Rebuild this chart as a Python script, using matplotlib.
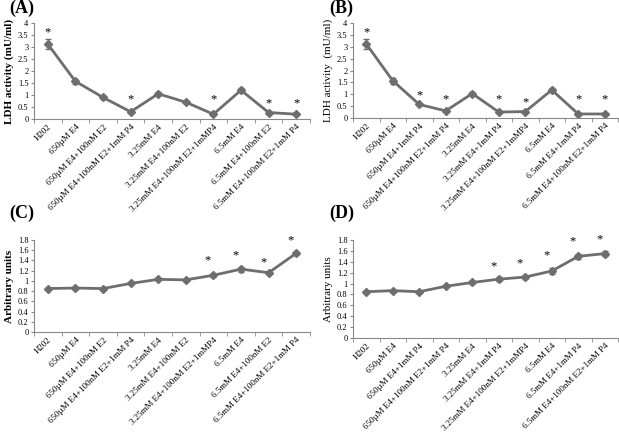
import numpy as np
import matplotlib
matplotlib.use("Agg")
import matplotlib.pyplot as plt

plt.rcParams['font.family'] = ['Liberation Serif', 'DejaVu Serif']

## category names for the two sets of panels
cats_AC = ["H202", "650µM E4", "650µM E4+100nM E2", "650µM E4+100nM E2+1mM P4",
           "3.25mM E4", "3.25mM E4+100nM E2", "3.25mM E4+100nM E2+1mMP4",
           "6.5mM E4", "6.5mM E4+100nM E2", "6.5mM E4+100nM E2+1mM P4"]
cats_BD = ["H202", "650µM E4", "650µM E4+1mM P4", "650µM E4+100nM E2+1mM P4",
           "3.25mM E4", "3.25mM E4+1mM P4", "3.25mM E4+100nM E2+1mMP4",
           "6.5mM E4", "6.5mM E4+1mM P4", "6.5mM E4+100nM E2+1mM P4"]

## values
ldh_A = [3.12, 1.57, 0.9, 0.3, 1.05, 0.7, 0.2, 1.2, 0.27, 0.2]
err_A = [0.2, 0.1, 0.05, 0.04, 0.07, 0.05, 0.04, 0.08, 0.04, 0.03]
star_A = {0: 3.6, 3: 0.8, 6: 0.8, 8: 0.65, 9: 0.65}

ldh_B = [3.12, 1.57, 0.57, 0.3, 1.03, 0.25, 0.27, 1.18, 0.17, 0.17]
err_B = [0.2, 0.12, 0.04, 0.04, 0.07, 0.03, 0.03, 0.08, 0.03, 0.03]
star_B = {0: 3.6, 2: 0.96, 3: 0.8, 5: 0.8, 6: 0.65, 8: 0.8, 9: 0.8}

arb_C = [0.85, 0.86, 0.85, 0.95, 1.03, 1.02, 1.11, 1.23, 1.16, 1.54]
err_C = [0.02, 0.02, 0.02, 0.02, 0.02, 0.02, 0.03, 0.05, 0.03, 0.03]
star_C = {6: 1.40, 7: 1.50, 8: 1.36, 9: 1.8}

arb_D = [0.85, 0.87, 0.85, 0.95, 1.02, 1.08, 1.12, 1.23, 1.50, 1.55]
err_D = [0.02, 0.02, 0.02, 0.02, 0.02, 0.04, 0.03, 0.06, 0.04, 0.04]
star_D = {5: 1.31, 6: 1.38, 7: 1.52, 8: 1.78, 9: 1.81}

W, H = 619, 432
fig = plt.figure(figsize=(W / 100, H / 100), dpi=100)

def box(l, r, t, b):
    return [l / W, (H - b) / H, (r - l) / W, (b - t) / H]

def panel(rect, cats, vals, errs, stars, ymax, ystep, ylabel, bold, letter, lpos, sdx):
    ax = fig.add_axes(rect)
    x = np.arange(len(cats))
    ax.errorbar(x, vals, yerr=errs, color='#6e6e6e', lw=2, marker='D', ms=4,
                capsize=2, elinewidth=1, capthick=1)
    for i, s in stars.items():
        ax.text(x[i] + sdx, s, "*", ha='center', va='center', fontsize=9, clip_on=False)
    ax.set_xlim(-0.5, len(cats) - 0.5)
    ax.set_ylim(0, ymax)
    ax.set_yticks(np.arange(0, ymax + 1e-6, ystep))
    ax.set_yticklabels(["%g" % v for v in np.arange(0, ymax + 1e-6, ystep)], fontsize=6)
    ax.set_xticks(x)
    ax.set_xticklabels(cats, rotation=45, ha='right', rotation_mode='anchor', fontsize=6.5)
    ax.set_xticks(np.arange(-0.5, len(cats), 1), minor=True)
    ax.tick_params(axis='x', which='major', length=0, pad=3)
    ax.tick_params(axis='x', which='minor', length=3, color='#888888')
    ax.tick_params(axis='y', length=2, color='#888888', pad=2)
    for s in ['top', 'right']:
        ax.spines[s].set_visible(False)
    for s in ['left', 'bottom']:
        ax.spines[s].set_color('#888888')
        ax.spines[s].set_linewidth(0.8)
    ax.set_ylabel(ylabel, fontsize=8, fontweight='bold' if bold else 'normal', labelpad=3)
    fig.text(lpos[0] / W, 1 - lpos[1] / H, letter, fontsize=13, fontweight='bold',
             ha='left', va='top')
    return ax

panel(box(34, 310, 23, 119), cats_AC, ldh_A, err_A, star_A, 4, 0.5,
      "LDH activity (mU/ml)", True, "(A)", (9, 0), 0)
panel(box(353, 618, 23, 118), cats_BD, ldh_B, err_B, star_B, 4, 0.5,
      "LDH activity  (mU/ml)", False, "(B)", (329, 0), 0)
panel(box(34, 310, 240, 332), cats_AC, arb_C, err_C, star_C, 1.8, 0.2,
      "Arbitrary units", True, "(C)", (9, 205), -0.2)
panel(box(353, 618, 240, 338), cats_BD, arb_D, err_D, star_D, 1.8, 0.2,
      "Arbitrary units", False, "(D)", (329, 205), -0.2)

fig.savefig("out.png", dpi=100, facecolor='white')
